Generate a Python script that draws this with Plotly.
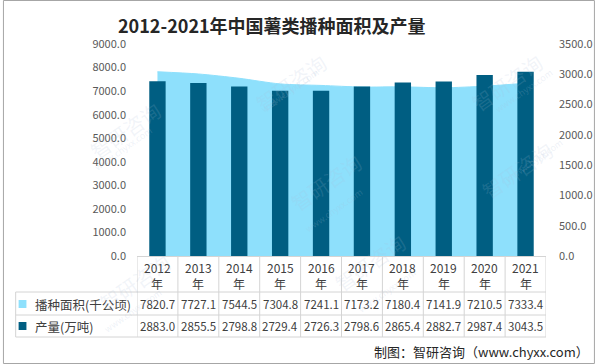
import plotly.graph_objects as go

years = ["2012", "2013", "2014", "2015", "2016", "2017", "2018", "2019", "2020", "2021"]
area_vals = [7820.7, 7727.1, 7544.5, 7304.8, 7241.1, 7173.2, 7180.4, 7141.9, 7210.5, 7333.4]
prod_vals = [2883.0, 2855.5, 2798.8, 2729.4, 2726.3, 2798.6, 2865.4, 2882.7, 2987.4, 3043.5]
series_names = ["播种面积(千公顷)", "产量(万吨)"]
title_text = "2012-2021年中国薯类播种面积及产量"
footer_text = "制图：智研咨询（www.chyxx.com）"

LIGHT = "#8EE0FC"
DARK = "#005E82"
GRID = "#D4D4D4"
FONT = "Noto Sans CJK SC, Microsoft YaHei, sans-serif"

W, H = 605, 364
L, R, T, B = 137, 50, 44, 108
PW, PH = W - L - R, H - T - B


def px(x):
    return (x - L) / PW


def py(y):
    return (H - B - y) / PH


fig = go.Figure()
fig.add_trace(go.Scatter(
    x=years, y=area_vals, name=series_names[0], mode="lines",
    line=dict(color=LIGHT, width=1, shape="spline", smoothing=0.8),
    fill="tozeroy", fillcolor=LIGHT, yaxis="y", hoverinfo="x+y"))
fig.add_trace(go.Bar(
    x=years, y=prod_vals, name=series_names[1], marker=dict(color=DARK, line=dict(width=0)),
    yaxis="y2"))

annotations = []
shapes = []

# title
annotations.append(dict(text="<b>" + title_text + "</b>", x=px(275), y=py(25), xref="paper", yref="paper",
                        showarrow=False, font=dict(size=18, color="#262626", family=FONT),
                        xanchor="center", yanchor="middle"))

# table: year headers and values (positioned on the category axis by index)
for i, yr in enumerate(years):
    annotations.append(dict(text=yr, x=i, y=py(267), xref="x", yref="paper", showarrow=False,
                            font=dict(size=12, color="#404040", family=FONT), xanchor="center", yanchor="middle"))
    annotations.append(dict(text="年", x=i, y=py(283), xref="x", yref="paper", showarrow=False,
                            font=dict(size=12, color="#404040", family=FONT), xanchor="center", yanchor="middle"))
    annotations.append(dict(text=f"{area_vals[i]:.1f}", x=i, y=py(304), xref="x", yref="paper", showarrow=False,
                            font=dict(size=11.5, color="#404040", family=FONT), xanchor="center", yanchor="middle"))
    annotations.append(dict(text=f"{prod_vals[i]:.1f}", x=i, y=py(326), xref="x", yref="paper", showarrow=False,
                            font=dict(size=11.5, color="#404040", family=FONT), xanchor="center", yanchor="middle"))

# row headers with colour keys
for j, (nm, col, yy) in enumerate([(series_names[0], LIGHT, 304), (series_names[1], DARK, 326)]):
    shapes.append(dict(type="rect", xref="paper", yref="paper", x0=px(16), x1=px(24), y0=py(yy - 4), y1=py(yy + 4),
                       fillcolor=col, line=dict(width=0)))
    annotations.append(dict(text=nm, x=px(31), y=py(yy), xref="paper", yref="paper", showarrow=False,
                            font=dict(size=12.5, color="#404040", family=FONT), xanchor="left", yanchor="middle"))

# table grid lines
n = len(years)
for k in range(n + 1):
    shapes.append(dict(type="line", xref="x", yref="paper", x0=k - 0.5, x1=k - 0.5, y0=py(256), y1=py(337),
                       line=dict(color=GRID, width=1)))
shapes.append(dict(type="line", xref="paper", yref="paper", x0=px(13), x1=px(13), y0=py(292), y1=py(337),
                   line=dict(color=GRID, width=1)))
shapes.append(dict(type="line", xref="paper", yref="paper", x0=0, x1=1, y0=py(256.5), y1=py(256.5),
                   line=dict(color=GRID, width=1)))
for yy in (292, 315, 337):
    shapes.append(dict(type="line", xref="paper", yref="paper", x0=px(13), x1=1, y0=py(yy), y1=py(yy),
                       line=dict(color=GRID, width=1)))

# outer border
shapes.append(dict(type="rect", xref="paper", yref="paper", x0=px(0.5), x1=px(W - 0.5), y0=py(H - 0.5), y1=py(0.5),
                   line=dict(color="#A6A6A6", width=1), fillcolor="rgba(0,0,0,0)"))

# footer
annotations.append(dict(text=footer_text, x=px(601), y=py(351), xref="paper", yref="paper", showarrow=False,
                        font=dict(size=13, color="#262626", family=FONT), xanchor="right", yanchor="middle"))

# faint watermarks
for (wx, wy) in [(80, 130), (250, 45), (330, 220), (560, 45), (570, 170), (90, 320), (420, 300)]:
    annotations.append(dict(text="智研咨询", x=px(wx), y=py(wy), xref="paper", yref="paper", showarrow=False,
                            textangle=-35, font=dict(size=20, color="rgba(170,190,215,0.16)", family=FONT)))
    annotations.append(dict(text="www.chyxx.com", x=px(wx + 8), y=py(wy + 18), xref="paper", yref="paper",
                            showarrow=False, textangle=-35,
                            font=dict(size=9, color="rgba(170,190,215,0.2)", family=FONT)))

fig.update_layout(
    width=W, height=H,
    margin=dict(l=L, r=R, t=T, b=B),
    paper_bgcolor="white", plot_bgcolor="white",
    showlegend=False,
    bargap=0.6,
    font=dict(family=FONT, color="#595959"),
    xaxis=dict(type="category", showticklabels=False, showgrid=False, zeroline=False, showline=False,
               range=[-0.5, n - 0.5], fixedrange=True),
    yaxis=dict(range=[0, 9000], dtick=1000, tickformat=".1f", showgrid=False, zeroline=False, showline=False,
               tickfont=dict(size=11, color="#595959", family=FONT), ticklabelstandoff=10),
    yaxis2=dict(range=[0, 3500], dtick=500, tickformat=".1f", overlaying="y", side="right", showgrid=False,
                zeroline=False, showline=False, tickfont=dict(size=11, color="#595959", family=FONT),
                ticklabelstandoff=12),
    annotations=annotations,
    shapes=shapes,
)

fig.write_html("out.html", config={"displayModeBar": False},
               post_script="document.body.style.margin='0';document.body.style.overflow='hidden';")
